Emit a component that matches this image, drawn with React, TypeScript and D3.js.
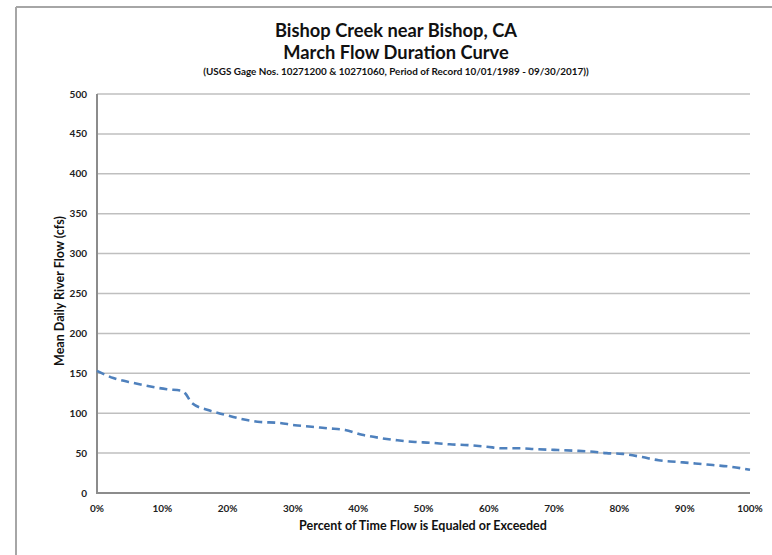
import React from "react";
import * as d3 from "d3";

const percents = [0, 2.5, 5.5, 7.8, 10.7, 13, 13.5, 14.5, 17, 19.6, 22, 25, 27.7, 30.3, 32.9, 35.4, 38, 40.6, 43.3, 46, 48.7, 51, 54, 56.8, 59.7, 62, 64.8, 67, 70, 73, 75.5, 78, 80.5, 83.5, 86, 88.8, 91.6, 94.3, 97, 100];
const flows = [153, 144, 138, 134, 130, 128, 125, 113, 104, 98, 93, 89, 88, 85, 83, 81, 79, 73, 69, 66, 64, 63, 61, 60, 58, 56, 56, 55, 54, 53, 52, 50, 49, 45, 41, 39, 37, 35, 33, 29];
const yTicks = [0, 50, 100, 150, 200, 250, 300, 350, 400, 450, 500];
const xTicks = [0, 10, 20, 30, 40, 50, 60, 70, 80, 90, 100];

const titleLines = ["Bishop Creek near Bishop, CA", "March Flow Duration Curve"];
const subtitle = "(USGS Gage Nos. 10271200 & 10271060, Period of Record 10/01/1989 - 09/30/2017))";
const yTitle = "Mean Daily River Flow (cfs)";
const xTitle = "Percent of Time Flow is Equaled or Exceeded";

export default function App() {
  const W = 772, H = 555;
  const left = 97, right = 750, top = 94, bottom = 493;
  const x = d3.scaleLinear().domain([0, 100]).range([left, right]);
  const y = d3.scaleLinear().domain([0, 500]).range([bottom, top]);
  const line = d3.line<number>().x((_, i) => x(percents[i])).y((d) => y(d)).curve(d3.curveMonotoneX);
  const font = "Lato, 'Open Sans', sans-serif";
  return (
    <svg width={W} height={H} style={{ position: "absolute", left: 0, top: 0 }} fontFamily={font}>
      <rect x={0} y={0} width={W} height={H} fill="#fff" />
      <line x1={16} y1={7} x2={W} y2={7} stroke="#a6a6a6" strokeWidth={2} />
      <line x1={16} y1={7} x2={16} y2={H} stroke="#a6a6a6" strokeWidth={2} />
      {yTicks.map((t) => (
        <line key={"g" + t} x1={left} x2={right} y1={y(t)} y2={y(t)} stroke="#bfbfbf" strokeWidth={1.5} />
      ))}
      <line x1={left} x2={left} y1={top} y2={bottom + 1} stroke="#8c8c8c" strokeWidth={2} />
      <line x1={left} x2={right} y1={bottom} y2={bottom} stroke="#8c8c8c" strokeWidth={2} />
      {yTicks.map((t) => (
        <text key={"y" + t} x={87} y={y(t) + 3.5} textAnchor="end" fontSize={10} fontWeight="bold" fill="#222">{t}</text>
      ))}
      {xTicks.map((t) => (
        <text key={"x" + t} x={x(t)} y={512} textAnchor="middle" fontSize={10} fontWeight="bold" fill="#222">{t}%</text>
      ))}
      <path d={line(flows) || ""} fill="none" stroke="#4f81bd" strokeWidth={2.6} strokeDasharray="8,5" />
      <text x={396} y={37} textAnchor="middle" fontSize={18.3} fontWeight="bold" fill="#111">{titleLines[0]}</text>
      <text x={396} y={59} textAnchor="middle" fontSize={18.3} fontWeight="bold" fill="#111">{titleLines[1]}</text>
      <text x={396} y={75} textAnchor="middle" fontSize={9.9} fontWeight="bold" fill="#111">{subtitle}</text>
      <text transform={`translate(64,291) rotate(-90)`} textAnchor="middle" fontSize={12.5} fontWeight="bold" fill="#111">{yTitle}</text>
      <text x={423} y={530} textAnchor="middle" fontSize={12.5} fontWeight="bold" fill="#111">{xTitle}</text>
    </svg>
  );
}
